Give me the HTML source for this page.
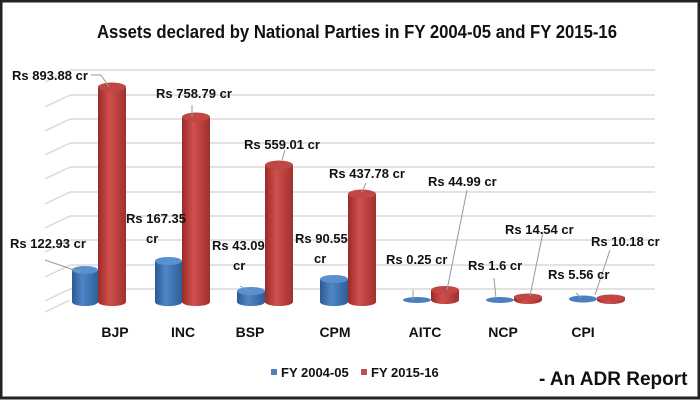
<!DOCTYPE html>
<html><head><meta charset="utf-8"><style>
html,body{margin:0;padding:0;background:#fff}
svg{display:block}
text{font-family:"Liberation Sans",sans-serif;font-weight:bold;fill:#111}
</style></head><body>
<svg width="700" height="400" viewBox="0 0 700 400" xmlns="http://www.w3.org/2000/svg">
<defs>
<linearGradient id="gb" x1="0" x2="1" y1="0" y2="0"><stop offset="0" stop-color="#2c5a94"/><stop offset="0.4" stop-color="#4f86c6"/><stop offset="1" stop-color="#2f5e99"/></linearGradient>
<linearGradient id="gr" x1="0" x2="1" y1="0" y2="0"><stop offset="0" stop-color="#9a2a28"/><stop offset="0.4" stop-color="#d0504d"/><stop offset="1" stop-color="#a0302d"/></linearGradient>
</defs>
<rect x="1" y="1" width="698" height="397" fill="#fff" stroke="#222" stroke-width="3"/>
<text x="357" y="38" font-size="18" text-anchor="middle" textLength="520" lengthAdjust="spacingAndGlyphs">Assets declared by National Parties in FY 2004-05 and FY 2015-16</text>
<g stroke="#d9d9d9" stroke-width="1.5" fill="none">
<path d="M70 70H655M70 95H655M70 119H655M70 143H655M70 167H655M70 192H655M70 216H655M70 240H655M70 265H655M70 289H655"/>
<path d="M45 82L70 70M45 107L70 95M45 131L70 119M45 155L70 143M45 179L70 167M45 204L70 192M45 228L70 216M45 252L70 240M45 277L70 265M45 301L70 289M45 312L70 300"/>
</g>
<g id="bars">
</g>
<g font-size="13" stroke="#999" stroke-width="1">
<!-- BJP -->
<path d="M72 270v32a13 4 0 0 0 26 0v-32z" fill="url(#gb)" stroke="none"/><ellipse cx="85" cy="270" rx="13" ry="4" fill="#5a8fd0" stroke="none"/>
<path d="M98 87v215a14 4 0 0 0 28 0v-215z" fill="url(#gr)" stroke="none"/><ellipse cx="112" cy="87" rx="14" ry="4.5" fill="#c04744" stroke="none"/>
<!-- INC -->
<path d="M155 261v41a13 4 0 0 0 27 0v-41z" fill="url(#gb)" stroke="none"/><ellipse cx="168.5" cy="261" rx="13.5" ry="4" fill="#5a8fd0" stroke="none"/>
<path d="M182 117v185a14 4 0 0 0 28 0v-185z" fill="url(#gr)" stroke="none"/><ellipse cx="196" cy="117" rx="14" ry="4.5" fill="#c04744" stroke="none"/>
<!-- BSP -->
<path d="M237 291v11a14 4 0 0 0 28 0v-11z" fill="url(#gb)" stroke="none"/><ellipse cx="251" cy="291" rx="14" ry="4" fill="#5a8fd0" stroke="none"/>
<path d="M265 165v137a14 4 0 0 0 28 0v-137z" fill="url(#gr)" stroke="none"/><ellipse cx="279" cy="165" rx="14" ry="4.5" fill="#c04744" stroke="none"/>
<!-- CPM -->
<path d="M320 279v23a14 4 0 0 0 28 0v-23z" fill="url(#gb)" stroke="none"/><ellipse cx="334" cy="279" rx="14" ry="4" fill="#5a8fd0" stroke="none"/>
<path d="M348 194v108a14 4 0 0 0 28 0v-108z" fill="url(#gr)" stroke="none"/><ellipse cx="362" cy="194" rx="14" ry="4.5" fill="#c04744" stroke="none"/>
<!-- AITC -->
<ellipse cx="417" cy="300" rx="14" ry="3" fill="#4a7fc0" stroke="none"/>
<path d="M431 290v10a14 4 0 0 0 28 0v-10z" fill="url(#gr)" stroke="none"/><ellipse cx="445" cy="290" rx="14" ry="4" fill="#c04744" stroke="none"/>
<!-- NCP -->
<ellipse cx="500" cy="300" rx="14" ry="3" fill="#4a7fc0" stroke="none"/>
<path d="M514 297v3a14 4 0 0 0 28 0v-3z" fill="url(#gr)" stroke="none"/><ellipse cx="528" cy="297" rx="14" ry="3.5" fill="#c04744" stroke="none"/>
<!-- CPI -->
<ellipse cx="583" cy="299" rx="14" ry="3.5" fill="#4a7fc0" stroke="none"/>
<path d="M597 297v3a14 4 0 0 0 28 0v-3z" fill="url(#gr)" stroke="none"/><ellipse cx="611" cy="298" rx="14" ry="3.5" fill="#c04744" stroke="none"/>
<!-- leader lines -->
<path d="M91 75h10l8 12M45 260l35 12M192 105v12M240 286l10 6M285 150l-3 10M366 183l-4 9M413 290l0 10M467 190l-20 100M494 278l2 20M610 250l-15 45M576 293l5 5M543 232l-13 64" fill="none"/>
<g stroke="none">
<text x="12" y="80">Rs 893.88 cr</text>
<text x="156" y="98">Rs 758.79 cr</text>
<text x="10" y="248">Rs 122.93 cr</text>
<text x="126" y="223">Rs 167.35</text><text x="146" y="243">cr</text>
<text x="244" y="149">Rs 559.01 cr</text>
<text x="212" y="250">Rs 43.09</text><text x="233" y="270">cr</text>
<text x="329" y="178">Rs 437.78 cr</text>
<text x="295" y="243">Rs 90.55</text><text x="314" y="263">cr</text>
<text x="428" y="186">Rs 44.99 cr</text>
<text x="386" y="264">Rs 0.25 cr</text>
<text x="505" y="234">Rs 14.54 cr</text>
<text x="468" y="270">Rs 1.6 cr</text>
<text x="591" y="246">Rs 10.18 cr</text>
<text x="548" y="279">Rs 5.56 cr</text>
<g font-size="14" text-anchor="middle">
<text x="115" y="337">BJP</text><text x="183" y="337">INC</text><text x="250" y="337">BSP</text><text x="335" y="337">CPM</text><text x="425" y="337">AITC</text><text x="503" y="337">NCP</text><text x="583" y="337">CPI</text>
</g>
<rect x="271" y="369" width="6" height="6" fill="#4f81bd"/><text x="281" y="377">FY 2004-05</text>
<rect x="361" y="369" width="6" height="6" fill="#c0504d"/><text x="371" y="377">FY 2015-16</text>
<text x="539" y="385" font-size="19">- An ADR Report</text>
</g>
</g>
</svg>
</body></html>
